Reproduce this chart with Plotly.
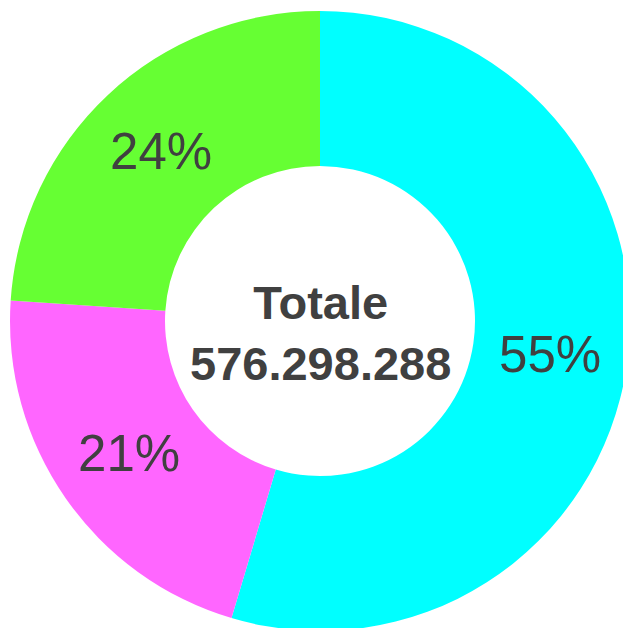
import plotly.graph_objects as go

labels = ["Categoria A", "Categoria B", "Categoria C"]
values = [314700000, 123600000, 137998288]
colors = ["#00FFFF", "#FF66FF", "#66FF33"]
total_label = "Totale"
total_value = "576.298.288"

FONT = "Arial, 'Liberation Sans', sans-serif"
TEXT_COLOR = "#404040"

fig = go.Figure(
    go.Pie(
        labels=labels,
        values=values,
        hole=0.5,
        sort=False,
        direction="clockwise",
        rotation=0,
        marker=dict(colors=colors, line=dict(width=0)),
        textinfo="percent",
        texttemplate="%{percent:.0%}",
        textposition="inside",
        insidetextorientation="horizontal",
        textfont=dict(family=FONT, size=51, color=TEXT_COLOR),
        showlegend=False,
        hoverinfo="label+value+percent",
    )
)

fig.add_annotation(
    x=0.5, y=0.5, xref="paper", yref="paper",
    text=f"<b>{total_label}</b><br><b>{total_value}</b>",
    showarrow=False,
    font=dict(family=FONT, size=47, color=TEXT_COLOR),
    align="center",
    yshift=-12,
)

fig.update_layout(
    width=640,
    height=641,
    margin=dict(l=10, r=10, t=11, b=10),
    paper_bgcolor="white",
    plot_bgcolor="white",
)

fig.write_html(
    "out.html",
    config={"displayModeBar": False},
    post_script=(
        "document.body.style.margin='0';"
        "document.body.style.overflow='hidden';"
        "document.documentElement.style.overflow='hidden';"
    ),
)
